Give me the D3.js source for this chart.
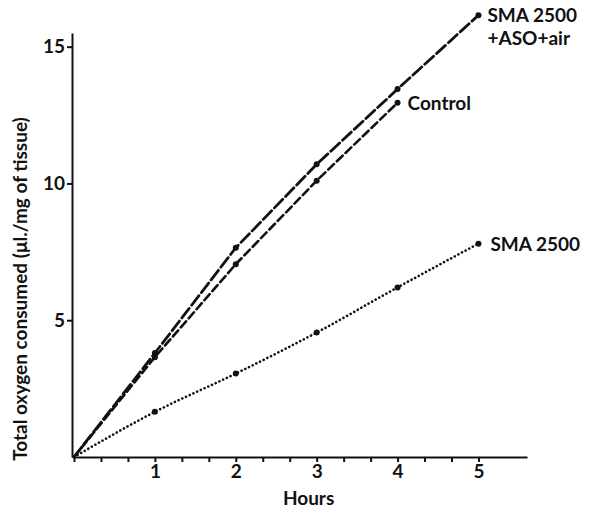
<!DOCTYPE html>
<html>
<head>
<meta charset="utf-8">
<script src="https://cdn.jsdelivr.net/npm/d3@7"></script>
<style>
  body { margin: 0; background: #fff; }
  svg text { font-family: Lato, "DejaVu Sans", sans-serif; font-weight: bold; fill: #111; }
</style>
</head>
<body>
<svg width="594" height="508"></svg>
<script>
// hours on the x axis
const hours = [0, 1, 2, 3, 4, 5];
const hoursControl = [0, 1, 2, 3, 4];

// total oxygen consumed (ul./mg of tissue)
const asoAir  = [0, 3.8, 7.65, 10.7, 13.45, 16.15];
const control = [0, 3.65, 7.05, 10.1, 12.95];
const sma     = [0, 1.65, 3.05, 4.55, 6.2, 7.8];

const xMinorTicks = d3.range(0, 16).map(d => d / 3);
const xTickLabels = [1, 2, 3, 4, 5];
const yTickLabels = [5, 10, 15];

const svg = d3.select("svg");

const xScale = d3.scaleLinear()
                 .domain([0, 5.6])
                 .range([74, 527]);

const yScale = d3.scaleLinear()
                 .domain([0, 15.5])
                 .range([457, 33]);

// x axis, tick every 20 min, labels on the hours
const xAxis = svg.append("g")
                 .attr("transform", `translate(0, ${yScale(0)})`)
                 .call(d3.axisBottom(xScale)
                         .tickValues(xMinorTicks)
                         .tickSizeInner(5)
                         .tickSizeOuter(0)
                         .tickFormat(d => {
                           const r = Math.round(d);
                           return (Math.abs(d - r) < 1e-6 && xTickLabels.includes(r)) ? r : "";
                         }));

xAxis.selectAll("path, line").attr("stroke", "#111").attr("stroke-width", 2);
xAxis.selectAll("text").style("font-size", "19px").attr("y", 8).attr("dy", "0.71em");

const yAxis = svg.append("g")
                 .attr("transform", `translate(${xScale(0) - 2}, 0)`)
                 .call(d3.axisLeft(yScale)
                         .tickValues(yTickLabels)
                         .tickSizeInner(5)
                         .tickSizeOuter(0));

yAxis.selectAll("path, line").attr("stroke", "#111").attr("stroke-width", 2);
yAxis.selectAll("text").style("font-size", "19px").attr("x", -7);

// series
const series = [
  { values: asoAir,  xs: hours,        dash: "12,4",    width: 2.8, curve: d3.curveLinear },
  { values: control, xs: hoursControl, dash: "8,4",     width: 2.6, curve: d3.curveLinear },
  { values: sma,     xs: hours,        dash: "0.1,4",   width: 2.6, curve: d3.curveMonotoneX }
];

series.forEach(s => {
  const pts = s.values.map((v, i) => [s.xs[i], v]);
  const line = d3.line()
                 .x(d => xScale(d[0]))
                 .y(d => yScale(d[1]))
                 .curve(s.curve);

  svg.append("path")
     .datum(pts)
     .attr("d", line)
     .attr("fill", "none")
     .attr("stroke", "#111")
     .attr("stroke-width", s.width)
     .attr("stroke-linecap", "round")
     .attr("stroke-dasharray", s.dash);

  svg.selectAll()
     .data(pts.slice(1))
     .enter()
     .append("circle")
     .attr("cx", d => xScale(d[0]))
     .attr("cy", d => yScale(d[1]))
     .attr("r", 3)
     .attr("fill", "#111");
});

// labels at line ends
svg.append("text")
   .attr("x", xScale(5) + 9)
   .attr("y", yScale(asoAir[5]) + 7)
   .style("font-size", "19px")
   .text("SMA 2500");

svg.append("text")
   .attr("x", xScale(5) + 9)
   .attr("y", yScale(asoAir[5]) + 30)
   .style("font-size", "19px")
   .text("+ASO+air");

svg.append("text")
   .attr("x", xScale(4) + 10)
   .attr("y", yScale(control[4]) + 7)
   .style("font-size", "19px")
   .text("Control");

svg.append("text")
   .attr("x", xScale(5) + 12)
   .attr("y", yScale(sma[5]) + 7)
   .style("font-size", "19px")
   .text("SMA 2500");

// axis titles
svg.append("text")
   .attr("x", xScale(2.9))
   .attr("y", 505)
   .style("text-anchor", "middle")
   .style("font-size", "19px")
   .text("Hours");

svg.append("text")
   .attr("transform", "rotate(-90)")
   .attr("x", -289)
   .attr("y", 27)
   .style("text-anchor", "middle")
   .style("font-size", "19px")
   .text("Total oxygen consumed (μl./mg of tissue)");
</script>
</body>
</html>
